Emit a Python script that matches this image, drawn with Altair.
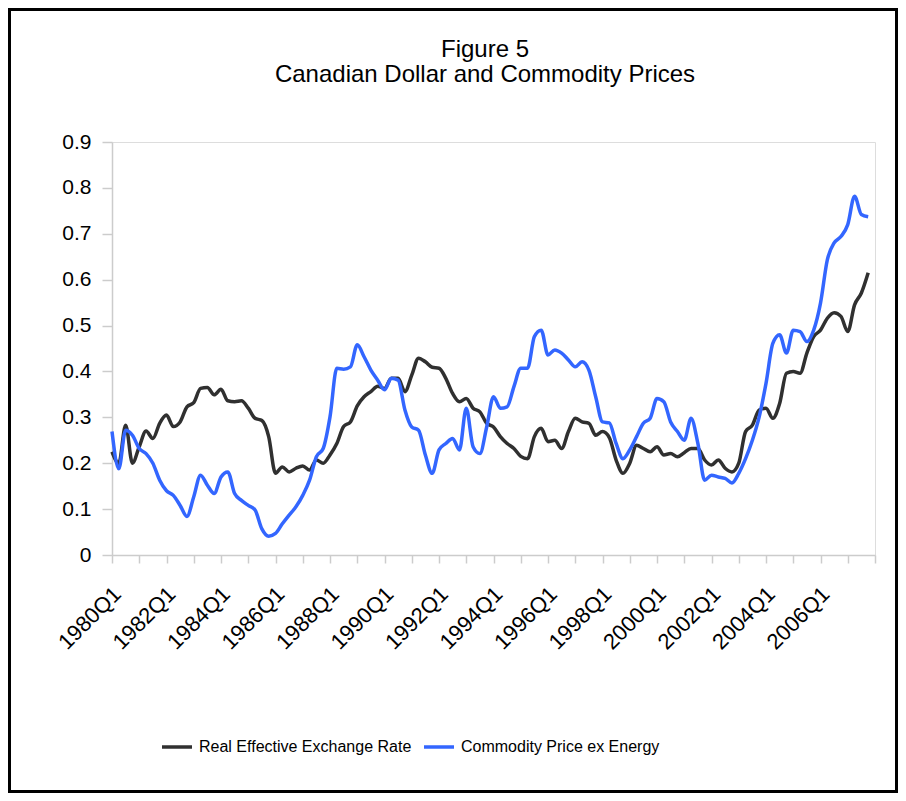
import altair as alt
import pandas as pd

series_names = ["Real Effective Exchange Rate", "Commodity Price ex Energy"]
title_lines = ["Figure 5", "Canadian Dollar and Commodity Prices"]

# Quarterly, 1980Q1 .. 2007Q4 (112 quarters)
reer = [
    0.225, 0.200, 0.283, 0.200, 0.236, 0.270, 0.254, 0.287, 0.305, 0.280,
    0.290, 0.323, 0.332, 0.363, 0.365, 0.349, 0.361, 0.336, 0.334, 0.336,
    0.320, 0.298, 0.293, 0.258, 0.178, 0.192, 0.181, 0.189, 0.194, 0.185,
    0.207, 0.200, 0.218, 0.243, 0.280, 0.290, 0.325, 0.345, 0.356, 0.368,
    0.363, 0.385, 0.385, 0.356, 0.392, 0.429, 0.421, 0.409, 0.407, 0.385,
    0.352, 0.334, 0.341, 0.320, 0.312, 0.287, 0.279, 0.258, 0.243, 0.232,
    0.215, 0.210, 0.258, 0.276, 0.247, 0.250, 0.232, 0.269, 0.298, 0.290,
    0.287, 0.261, 0.269, 0.256, 0.207, 0.178, 0.200, 0.239, 0.232, 0.225,
    0.236, 0.218, 0.221, 0.214, 0.223, 0.232, 0.232, 0.207, 0.196, 0.207,
    0.189, 0.181, 0.200, 0.269, 0.283, 0.316, 0.320, 0.298, 0.330, 0.396,
    0.400, 0.396, 0.440, 0.476, 0.490, 0.516, 0.528, 0.520, 0.487, 0.545,
    0.571, 0.615,
]

cpx = [
    0.269, 0.188, 0.272, 0.261, 0.232, 0.221, 0.200, 0.163, 0.140, 0.130,
    0.108, 0.084, 0.127, 0.174, 0.152, 0.134, 0.170, 0.181, 0.134, 0.119,
    0.108, 0.098, 0.057, 0.041, 0.047, 0.068, 0.087, 0.105, 0.130, 0.163,
    0.214, 0.232, 0.301, 0.407, 0.405, 0.410, 0.458, 0.432, 0.403, 0.381,
    0.360, 0.385, 0.381, 0.316, 0.279, 0.272, 0.218, 0.178, 0.229, 0.243,
    0.254, 0.229, 0.320, 0.236, 0.221, 0.279, 0.345, 0.320, 0.323, 0.367,
    0.407, 0.407, 0.476, 0.490, 0.436, 0.447, 0.440, 0.425, 0.410, 0.421,
    0.403, 0.345, 0.290, 0.288, 0.243, 0.210, 0.229, 0.258, 0.287, 0.298,
    0.341, 0.334, 0.290, 0.269, 0.250, 0.298, 0.243, 0.163, 0.174, 0.170,
    0.167, 0.157, 0.178, 0.210, 0.250, 0.301, 0.374, 0.461, 0.480, 0.440,
    0.490, 0.487, 0.465, 0.490, 0.549, 0.643, 0.680, 0.694, 0.720, 0.782,
    0.742, 0.737,
]

x_ticks = list(range(0, 113, 4))
y_ticks = [0, 0.1, 0.2, 0.3, 0.4, 0.5, 0.6, 0.7, 0.8, 0.9]

n = len(reer)
df = pd.DataFrame({
    "q": list(range(n)) * 2,
    "value": reer + cpx,
    "series": [series_names[0]] * n + [series_names[1]] * n,
})

FONT = "Liberation Sans"

lines = alt.Chart(df).mark_line(strokeWidth=3.5, interpolate="monotone").encode(
    x=alt.X("q:Q",
            scale=alt.Scale(domain=[0, 112], nice=False, zero=False),
            axis=alt.Axis(
                values=x_ticks, title=None, grid=False,
                labelExpr="datum.value % 8 == 0 && datum.value < 112 ? (1980 + datum.value / 4) + 'Q1' : ''",
                labelAngle=-45, labelAlign="right", labelBaseline="alphabetic",
                labelOffset=10, labelPadding=32, labelOverlap=False,
                labelFlush=False, labelBound=False,
                labelFontSize=22, labelFont=FONT, labelColor="#000000",
                tickSize=8, tickColor="#cccccc", tickWidth=1.5,
                domainColor="#cccccc", domainWidth=1.5,
            )),
    y=alt.Y("value:Q",
            scale=alt.Scale(domain=[0, 0.9], nice=False),
            axis=alt.Axis(
                values=y_ticks, format=".1~f", title=None, grid=False,
                labelFontSize=21, labelFont=FONT, labelColor="#000000",
                labelPadding=11,
                tickSize=10, tickColor="#cccccc", tickWidth=1.5,
                domainColor="#cccccc", domainWidth=1.5,
            )),
    color=alt.Color("series:N",
                    scale=alt.Scale(domain=series_names, range=["#303030", "#3366ff"]),
                    sort=series_names,
                    legend=alt.Legend(
                        title=None, orient="none", direction="horizontal",
                        legendX=48, legendY=588,
                        symbolType="stroke", symbolSize=900, symbolStrokeWidth=3.5,
                        labelFont=FONT, labelLimit=500,
                        labelFontSize=16, labelColor="#000000", labelOffset=5,
                        columnPadding=5, padding=0,
                    )),
)

frame = alt.Chart(pd.DataFrame({"a": [0]})).mark_rect(
    filled=False, stroke="#000000", strokeWidth=3
).encode(
    x=alt.value(-102.5), x2=alt.value(784.5),
    y=alt.value(-132.5), y2=alt.value(649.5),
)

title_df = pd.DataFrame({"text": title_lines, "line": [0, 1]})
title1 = alt.Chart(title_df).transform_filter("datum.line == 0").mark_text(
    font=FONT, fontSize=24, color="#000000", align="center", baseline="alphabetic"
).encode(text="text:N", x=alt.value(373), y=alt.value(-85))
title2 = alt.Chart(title_df).transform_filter("datum.line == 1").mark_text(
    font=FONT, fontSize=24, color="#000000", align="center", baseline="alphabetic"
).encode(text="text:N", x=alt.value(373), y=alt.value(-60))

chart = alt.layer(frame, title1, title2, lines).properties(
    width=763, height=413, padding=0,
).configure_view(stroke=None).configure(background="white")

chart.save("out.html", embed_options={"renderer": "svg", "actions": False})
